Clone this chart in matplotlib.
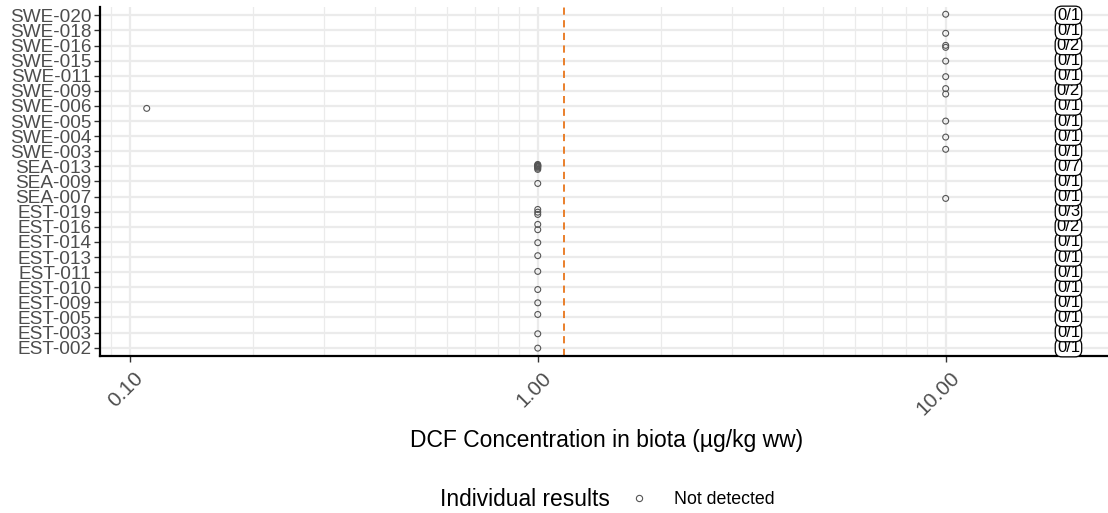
import matplotlib.pyplot as plt
import matplotlib.transforms as mtransforms
from matplotlib.lines import Line2D
from matplotlib.ticker import LogLocator, NullFormatter
import numpy as np

plt.rcParams['font.family'] = ['Liberation Sans', 'DejaVu Sans']

# stations, bottom to top
stations = ['EST-002', 'EST-003', 'EST-005', 'EST-009', 'EST-010', 'EST-011',
            'EST-013', 'EST-014', 'EST-016', 'EST-019', 'SEA-007', 'SEA-009',
            'SEA-013', 'SWE-003', 'SWE-004', 'SWE-005', 'SWE-006', 'SWE-009',
            'SWE-011', 'SWE-015', 'SWE-016', 'SWE-018', 'SWE-020']

# individual results (all not detected): station, value, vertical jitter
pt_station = ['SWE-020', 'SWE-018', 'SWE-016', 'SWE-016', 'SWE-015', 'SWE-011',
              'SWE-009', 'SWE-009', 'SWE-006', 'SWE-005', 'SWE-004', 'SWE-003',
              'SEA-013', 'SEA-013', 'SEA-013', 'SEA-013', 'SEA-013', 'SEA-013', 'SEA-013',
              'SEA-009', 'SEA-007',
              'EST-019', 'EST-019', 'EST-019', 'EST-016', 'EST-016', 'EST-014',
              'EST-013', 'EST-011', 'EST-010', 'EST-009', 'EST-005', 'EST-003', 'EST-002']
pt_value = [10, 10, 10, 10, 10, 10,
            10, 10, 0.11, 10, 10, 10,
            1, 1, 1, 1, 1, 1, 1,
            1, 10,
            1, 1, 1, 1, 1, 1,
            1, 1, 1, 1, 1, 1, 1]
pt_jitter = [0.07, -0.19, 0.01, -0.12, -0.03, -0.06,
             0.15, -0.21, -0.16, 0.0, -0.06, 0.13,
             0.13, 0.08, 0.04, 0.0, -0.05, -0.12, -0.2,
             -0.13, -0.12,
             0.15, -0.03, -0.18, 0.16, -0.19, -0.05,
             0.09, 0.05, -0.15, -0.03, 0.2, -0.08, -0.03]

# detected / analysed per station (same order as stations)
counts = ['0/1', '0/1', '0/1', '0/1', '0/1', '0/1', '0/1', '0/1', '0/2', '0/3',
          '0/1', '0/1', '0/7', '0/1', '0/1', '0/1', '0/1', '0/2', '0/1', '0/1',
          '0/2', '0/1', '0/1']

threshold = 1.16
label_x = 20

fig = plt.figure(figsize=(11.08, 5.13), dpi=100)
ax = fig.add_axes([100 / 1108, 157 / 513, 1008 / 1108, 349 / 513])

ypos = {s: i for i, s in enumerate(stations)}
y = np.array([ypos[s] for s in pt_station]) + np.array(pt_jitter)
ax.scatter(pt_value, y, s=18, facecolors='none', edgecolors='#555555',
           linewidths=0.8, zorder=3)

ax.axvline(threshold, color='#E8751A', linestyle=(0, (4, 3)), linewidth=1.3, zorder=2)

for i, c in enumerate(counts):
    ax.text(label_x, i, c, ha='center', va='center', fontsize=12, zorder=4,
            bbox=dict(boxstyle='round,pad=0.1,rounding_size=0.4',
                      facecolor='white', edgecolor='black', linewidth=0.9))

ax.set_xscale('log')
ax.set_xlim(0.0845, 25)
ax.set_ylim(-0.55, len(stations) - 0.45)
ax.set_xticks([0.1, 1, 10])
ax.set_xticklabels(['0.10', '1.00', '10.00'])
ax.xaxis.set_minor_locator(LogLocator(base=10, subs=np.arange(2, 10)))
ax.xaxis.set_minor_formatter(NullFormatter())
ax.set_yticks(range(len(stations)))
ax.set_yticklabels(stations)

ax.grid(True, which='major', color='#EBEBEB', linewidth=1.6)
ax.grid(True, which='minor', axis='x', color='#EBEBEB', linewidth=0.9)
ax.set_axisbelow(True)

for side in ['top', 'right']:
    ax.spines[side].set_visible(False)
for side in ['left', 'bottom']:
    ax.spines[side].set_linewidth(1.6)
    ax.spines[side].set_color('black')

ax.tick_params(axis='both', which='major', length=4, width=1, color='#333333',
               labelcolor='#4D4D4D', pad=2)
ax.tick_params(axis='y', labelsize=13.7)
ax.tick_params(axis='x', labelsize=15)
ax.tick_params(axis='x', which='minor', length=0)
shift = mtransforms.ScaledTranslation(4 / 100, -4 / 100, fig.dpi_scale_trans)
for lab in ax.get_xticklabels():
    lab.set_rotation(45)
    lab.set_ha('right')
    lab.set_va('top')
    lab.set_rotation_mode('anchor')
    lab.set_transform(lab.get_transform() + shift)

fig.text(607 / 1108, 1 - 440 / 513, 'DCF Concentration in biota (\u00b5g/kg ww)',
         ha='center', va='center', fontsize=16.5)

# legend row
fig.text(440 / 1108, 1 - 500 / 513, 'Individual results', ha='left', va='center',
         fontsize=16.4)
handle = Line2D([], [], marker='o', linestyle='none', markersize=4.5,
                markerfacecolor='none', markeredgecolor='#555555', markeredgewidth=0.8)
fig.legend([handle], ['Not detected'], loc='center left',
           bbox_to_anchor=(617 / 1108, 1 - 500 / 513), frameon=False,
           fontsize=12.8, handlelength=1.5, handletextpad=1.2, borderpad=0)

fig.savefig('out.png', dpi=100)
